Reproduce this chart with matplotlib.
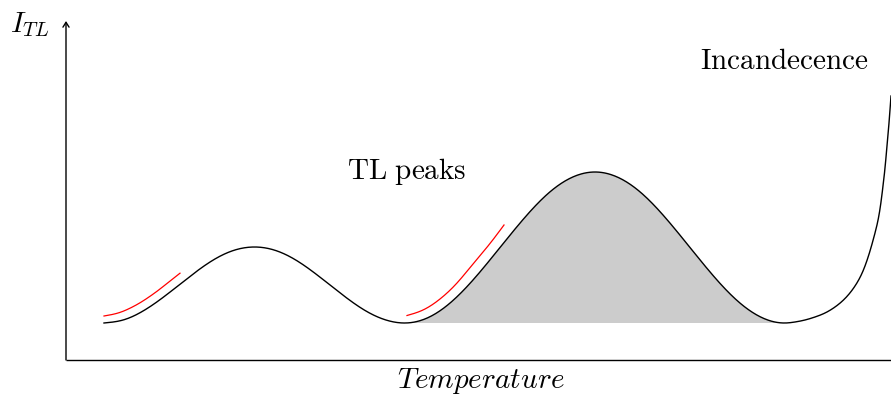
import matplotlib
matplotlib.use("Agg")
import matplotlib.pyplot as plt
from matplotlib.patches import FancyArrowPatch
import numpy as np

plt.rcParams['mathtext.fontset'] = 'cm'

# ---- data (axis origin at (0, 0)) ----
curve_x = [38, 56.75, 75.5, 94.25, 113, 131.75, 150.5, 169.25, 189,
           207.75, 226.5, 245.25, 264, 282.75, 301.5, 320.25, 339,
           362.75, 386.5, 410.25, 434, 457.75, 481.5, 505.25, 529,
           552.75, 576.5, 600.25, 624, 647.75, 671.5, 695.25, 719,
           729, 739, 749, 759, 769, 779, 789, 797, 804, 809, 813, 815,
           817, 819, 821, 823, 824, 825]
curve_y = [37, 39.9, 48.1, 60.5, 75, 89.5, 101.9, 110.1, 113,
           110.1, 101.9, 89.5, 75, 60.5, 48.1, 39.9, 37,
           42.7, 59.1, 83.7, 112.5, 141.3, 166, 182.3, 188,
           182.3, 166, 141.3, 112.5, 83.7, 59.1, 42.7, 37,
           38, 40, 43, 47, 53, 61.5, 74, 89, 109, 127, 145, 158,
           174, 192, 214, 237, 250, 264]

red1_x = [38, 54, 64, 74, 84, 94, 104, 114]
red1_y = [44, 47.6, 51.8, 57.2, 63.7, 71, 79, 86.8]

red2_x = [341, 357, 374, 391, 407, 424, 438]
red2_y = [44.5, 50, 61, 77, 96, 116.5, 135]

fill_start, fill_end = 16, 32   # indices of the shaded TL peak in the curve
baseline = 37

x_max = 825
y_max = 339

labels = {"ylabel": r"$I_{TL}$", "xlabel": r"$Temperature$",
          "peaks": r"$\mathrm{TL\ peaks}$", "incand": r"$\mathrm{Incandecence}$"}


def spline_dense(xs, ys, per=24):
    """Natural cubic spline (C2) through the given points, sampled densely for drawing."""
    x = np.asarray(xs, float)
    y = np.asarray(ys, float)
    n = len(x)
    h = np.diff(x)
    A = np.zeros((n, n))
    b = np.zeros(n)
    A[0, 0] = 1.0
    A[-1, -1] = 1.0
    for i in range(1, n - 1):
        A[i, i - 1] = h[i - 1]
        A[i, i] = 2 * (h[i - 1] + h[i])
        A[i, i + 1] = h[i]
        b[i] = 6 * ((y[i + 1] - y[i]) / h[i] - (y[i] - y[i - 1]) / h[i - 1])
    M = np.linalg.solve(A, b)
    ox, oy = [x[0]], [y[0]]
    for k in range(n - 1):
        t = np.linspace(x[k], x[k + 1], per + 1)[1:]
        a = x[k + 1] - t
        c = t - x[k]
        s = (M[k] * a**3 + M[k + 1] * c**3) / (6 * h[k]) \
            + (y[k] / h[k] - M[k] * h[k] / 6) * a \
            + (y[k + 1] / h[k] - M[k + 1] * h[k] / 6) * c
        ox.extend(t)
        oy.extend(s)
    return np.array(ox), np.array(oy)


fig = plt.figure(figsize=(8.91, 3.98), dpi=100)
ax = fig.add_axes([0, 0, 1, 1])
ax.set_xlim(-66, 825)
ax.set_ylim(-38, 360)
ax.axis('off')

# main curve
cx, cy = spline_dense(curve_x, curve_y)
ax.plot(cx, cy, color='black', lw=1.0, zorder=3)

# shaded peak (same curve, restricted to the second peak)
mask = (cx >= curve_x[fill_start]) & (cx <= curve_x[fill_end])
ax.fill_between(cx[mask], np.maximum(cy[mask], baseline), baseline,
                facecolor='#cccccc', edgecolor='none', zorder=1)

# red curves
for rx, ry in [(red1_x, red1_y), (red2_x, red2_y)]:
    sx, sy = spline_dense(rx, ry)
    ax.plot(sx, sy, color='red', lw=0.9, zorder=3)

# axes
ax.plot([0, x_max], [0, 0], color='black', lw=1.0, solid_capstyle='butt', zorder=2)
arr = FancyArrowPatch((0, 0), (0, y_max), arrowstyle='->,head_length=3.5,head_width=2.2',
                      mutation_scale=1, lw=1.0, color='black', shrinkA=0, shrinkB=0)
ax.add_patch(arr)

# texts
fs = 21
ax.text(-56, 328, labels["ylabel"], fontsize=fs, ha='left', va='baseline')
ax.text(415, -28, labels["xlabel"], fontsize=fs, ha='center', va='baseline')
ax.text(281, 181, labels["peaks"], fontsize=fs, ha='left', va='baseline')
ax.text(634, 291, labels["incand"], fontsize=fs, ha='left', va='baseline')

fig.savefig('out.png', dpi=100)
